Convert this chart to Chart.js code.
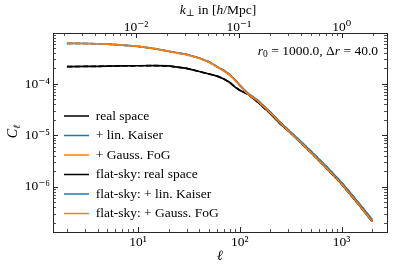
<!DOCTYPE html>
<html><head><meta charset="utf-8">
<script src="https://cdn.jsdelivr.net/npm/chart.js@4.4.1/dist/chart.umd.min.js"></script>
<style>html,body{margin:0;padding:0;background:#fff}#wrap{width:407px;height:267px;position:relative}</style>
</head><body><div id="wrap"><canvas id="c"></canvas></div>
<script>
// ---- data ----
const ell = [2,3,4,5,7,10,15,20,30,40,50,60,70,80,90,100,120,150,200,250,300,400,500,700,1000,1500,2000];
const realSpace = [2.17e-4,2.19e-4,2.20e-4,2.22e-4,2.24e-4,2.26e-4,2.27e-4,2.24e-4,2.01e-4,1.75e-4,1.56e-4,1.42e-4,1.25e-4,1.065e-4,8.66e-5,7.57e-5,6.33e-5,4.46e-5,2.64e-5,1.68e-5,1.22e-5,7.17e-6,4.64e-6,2.39e-6,1.14e-6,4.34e-7,2.12e-7];
const linKaiser = [6.18e-4,6.13e-4,6.05e-4,5.94e-4,5.70e-4,5.39e-4,4.83e-4,4.33e-4,3.77e-4,3.20e-4,2.69e-4,2.17e-4,1.83e-4,1.52e-4,1.20e-4,9.55e-5,6.59e-5,4.85e-5,2.83e-5,1.80e-5,1.28e-5,7.56e-6,4.92e-6,2.55e-6,1.22e-6,4.69e-7,2.30e-7];
const gaussFoG = [6.18e-4,6.13e-4,6.05e-4,5.94e-4,5.70e-4,5.38e-4,4.81e-4,4.30e-4,3.73e-4,3.16e-4,2.65e-4,2.13e-4,1.79e-4,1.48e-4,1.17e-4,9.27e-5,6.38e-5,4.68e-5,2.72e-5,1.72e-5,1.22e-5,7.17e-6,4.64e-6,2.39e-6,1.14e-6,4.34e-7,2.12e-7];
const flatRealSpace = realSpace.slice();
const flatLinKaiser = linKaiser.slice();
const flatGaussFoG = gaussFoG.slice();
const seriesLabels = ['real space','+ lin. Kaiser','+ Gauss. FoG','flat-sky: real space','flat-sky: + lin. Kaiser','flat-sky: + Gauss. FoG'];
const xMajorTicks = [10, 100, 1000];
const xTickLabels = ['10¹','10²','10³'];
const yMajorTicks = [1e-6, 1e-5, 1e-4];
const yTickLabels = ['10⁻⁶','10⁻⁵','10⁻⁴'];
const kMajorTicks = [1e-2, 1e-1, 1];
const kTickLabels = ['10⁻²','10⁻¹','10⁰'];

// ---- style ----
const FAMILY = '"Liberation Serif", "DejaVu Serif", serif';
const FS = 13.5;
const LW = 1.7;
const BLUE = '#1f77b4', ORANGE = '#ff7f0e', BLACK = '#000000';
const AX = '#262626';

function logTicks(min, max) {
  const out = [];
  for (let e = Math.floor(Math.log10(min)); e <= Math.ceil(Math.log10(max)); e++) {
    for (let m = 1; m < 10; m++) {
      const v = m * Math.pow(10, e);
      if (v >= min * 0.99999 && v <= max * 1.00001) out.push(v);
    }
  }
  return out;
}
function isMajor(v) { const l = Math.log10(v); return Math.abs(l - Math.round(l)) < 1e-6; }
function labelFrom(majors, labels) {
  return (v) => { const i = majors.findIndex(t => Math.abs(t - v) / t < 1e-6); return i >= 0 ? labels[i] : ''; };
}
function ds(label, arr, color, dashed, order) {
  return { label, data: ell.map((x, i) => ({x, y: arr[i]})), borderColor: color, backgroundColor: color,
    borderWidth: LW, borderDash: dashed ? [5.5, 2.4] : [], pointRadius: 0, tension: 0, fill: false, order };
}

function drawRich(ctx, runs, x, y, align) {
  let total = 0;
  runs.forEach(r => { ctx.font = r.f; r.w = ctx.measureText(r.t).width; total += r.w; });
  let cx = align === 'right' ? x - total : align === 'center' ? x - total / 2 : x;
  ctx.textBaseline = 'alphabetic'; ctx.textAlign = 'left';
  runs.forEach(r => { ctx.font = r.f; ctx.fillText(r.t, cx, y + (r.dy || 0)); cx += r.w; });
}
const ROM = (s) => `${s}px ${FAMILY}`;
const ITA = (s) => `italic ${s}px ${FAMILY}`;

const decor = {
  id: 'decor',
  afterLayout(chart) {
    const lg = chart.legend, a = chart.chartArea;
    if (!lg) return;
    lg.left = a.left + 5; lg.right = a.right;
    lg.top = 103.25; lg.bottom = a.bottom;
  },
  afterDatasetsDraw(chart) {
    const {ctx, chartArea: a, scales} = chart;
    ctx.save();
    ctx.strokeStyle = AX;
    const tick = (x1, y1, x2, y2, major) => {
      ctx.lineWidth = major ? 1 : 0.8;
      ctx.beginPath(); ctx.moveTo(x1, y1); ctx.lineTo(x2, y2); ctx.stroke();
    };
    scales.x.ticks.forEach(t => { const p = Math.round(scales.x.getPixelForValue(t.value)) + 0.5; const L = isMajor(t.value) ? 5 : 3; tick(p, a.bottom, p, a.bottom - L, isMajor(t.value)); });
    scales.xTop.ticks.forEach(t => { const p = Math.round(scales.xTop.getPixelForValue(t.value)) + 0.5; const L = isMajor(t.value) ? 5 : 3; tick(p, a.top, p, a.top + L, isMajor(t.value)); });
    scales.y.ticks.forEach(t => { const p = Math.round(scales.y.getPixelForValue(t.value)) + 0.5; const L = isMajor(t.value) ? 5 : 3; tick(a.left, p, a.left + L, p, isMajor(t.value)); });
    scales.yR.ticks.forEach(t => { const p = Math.round(scales.yR.getPixelForValue(t.value)) + 0.5; const L = isMajor(t.value) ? 5 : 3; tick(a.right, p, a.right - L, p, isMajor(t.value)); });
    ctx.fillStyle = '#000';
    // annotation
    drawRich(ctx, [
      {t: 'r', f: ITA(FS)}, {t: '0', f: ROM(9.5), dy: 2.5},
      {t: ' = 1000.0, Δ', f: ROM(FS)}, {t: 'r', f: ITA(FS)}, {t: ' = 40.0', f: ROM(FS)}
    ], a.right - 9, 54.5, 'right');
    // top axis title
    drawRich(ctx, [
      {t: 'k', f: ITA(FS)}, {t: '⊥', f: ROM(9.5), dy: 2.5},
      {t: ' in [', f: ROM(FS)}, {t: 'h', f: ITA(FS)}, {t: '/Mpc]', f: ROM(FS)}
    ], (a.left + a.right) / 2 - 2, 13.5, 'center');
    // y axis title
    ctx.save();
    ctx.translate(17, (a.top + a.bottom) / 2 - 1);
    ctx.rotate(-Math.PI / 2);
    drawRich(ctx, [{t: 'C', f: ITA(FS + 0.5)}, {t: 'ℓ', f: ITA(9.5), dy: 2.5}], 0, 0, 'center');
    ctx.restore();
    ctx.restore();
  }
};

const tickFont = {family: FAMILY, size: FS};
const cfg = {
  type: 'line',
  data: { datasets: [
    ds(seriesLabels[0], realSpace, BLACK, false, 6),
    ds(seriesLabels[1], linKaiser, BLUE, false, 5),
    ds(seriesLabels[2], gaussFoG, ORANGE, false, 4),
    ds(seriesLabels[3], flatRealSpace, BLACK, true, 3),
    ds(seriesLabels[4], flatLinKaiser, BLUE, true, 2),
    ds(seriesLabels[5], flatGaussFoG, ORANGE, true, 1)
  ]},
  options: {
    responsive: true, maintainAspectRatio: false, animation: false,
    layout: {padding: 0},
    events: [],
    plugins: {
      tooltip: {enabled: false},
      legend: {
        position: 'chartArea', align: 'start',
        labels: { boxWidth: 25, boxHeight: 0, padding: 6, color: '#000', font: {family: FAMILY, size: FS},
          sort: (a, b) => a.datasetIndex - b.datasetIndex }
      }
    },
    scales: {
      x: { type: 'logarithmic', position: 'bottom', min: 1.46, max: 2800,
        grid: {display: false, drawTicks: false}, border: {display: true, color: AX, width: 1},
        afterBuildTicks: (s) => { s.ticks = logTicks(s.min, s.max).map(v => ({value: v})); },
        afterFit: (s) => { s.height = 35; },
        ticks: { autoSkip: false, maxRotation: 0, minRotation: 0, padding: 2, color: '#000', font: tickFont,
          callback: labelFrom(xMajorTicks, xTickLabels) },
        title: { display: true, text: 'ℓ', color: '#000', font: {family: FAMILY, size: 14, style: 'italic'}, padding: {top: 0, bottom: 2} }
      },
      xTop: { type: 'logarithmic', position: 'top', min: 1.56e-3, max: 2.757,
        grid: {display: false, drawTicks: false}, border: {display: true, color: AX, width: 1},
        afterBuildTicks: (s) => { s.ticks = logTicks(s.min, s.max).map(v => ({value: v})); },
        afterFit: (s) => { s.height = 33; },
        ticks: { autoSkip: false, maxRotation: 0, minRotation: 0, padding: -3, color: '#000', font: tickFont,
          callback: labelFrom(kMajorTicks, kTickLabels) }
      },
      y: { type: 'logarithmic', position: 'left', min: 1.32e-7, max: 9.8e-4,
        grid: {display: false, drawTicks: false}, border: {display: true, color: AX, width: 1},
        afterBuildTicks: (s) => { s.ticks = logTicks(s.min, s.max).map(v => ({value: v})); },
        afterFit: (s) => { s.width = 53; },
        ticks: { autoSkip: false, padding: 3, color: '#000', font: tickFont,
          callback: labelFrom(yMajorTicks, yTickLabels) }
      },
      yR: { type: 'logarithmic', position: 'right', min: 1.32e-7, max: 9.8e-4,
        grid: {display: false, drawTicks: false}, border: {display: true, color: AX, width: 1},
        afterBuildTicks: (s) => { s.ticks = logTicks(s.min, s.max).map(v => ({value: v})); },
        afterFit: (s) => { s.width = 20; },
        ticks: { display: false }
      }
    }
  },
  plugins: [decor]
};
new Chart(document.getElementById('c'), cfg);
</script>
</body></html>
